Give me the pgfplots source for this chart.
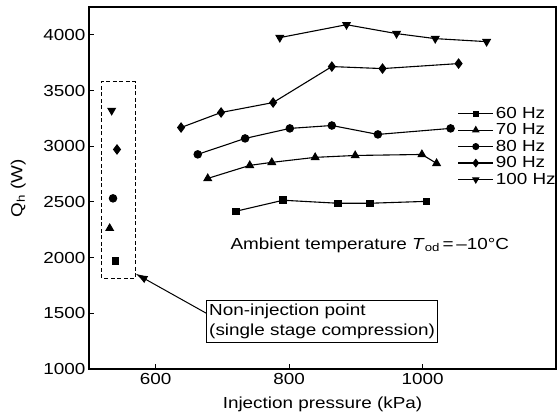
\documentclass[border=0pt]{standalone}
\usepackage{pgfplots}
\pgfplotsset{compat=1.18}
\usepackage{fontspec}
\setmainfont{Liberation Sans}[FakeStretch=1.18]
\usetikzlibrary{arrows.meta}
\begin{document}
\begin{tikzpicture}
\begin{axis}[
  name=ax,
  scale only axis,
  width=467pt, height=362pt,
  xmin=500, xmax=1200, ymin=1000, ymax=4250,
  xtick={600,800,1000}, ytick={1000,1500,2000,2500,3000,3500,4000},
  tick align=inside, xtick pos=bottom, ytick pos=left,
  major tick length=5pt,
  axis line style={line width=1.1pt},
  tick style={line width=1pt, black},
  /pgf/number format/assume math mode=true,
  /pgf/number format/1000 sep={},
  tick label style={font=\fontsize{16}{18}\selectfont},
  xticklabel style={yshift=-1pt},
  label style={font=\fontsize{16}{18}\selectfont},
  xlabel={Injection pressure (kPa)},
  ylabel={Q\textsubscript{h} (W)},
  xlabel style={yshift=-5pt},
  ylabel style={yshift=11pt},
  every axis plot/.append style={black, line width=1.1pt, mark options={solid, fill=black}},
  legend style={draw=none, fill=none, at={(1.004,0.729)}, anchor=north east,
    font=\fontsize{16}{17}\selectfont, row sep=-0.2pt, inner sep=0pt},
  legend cell align=left,
  legend image code/.code={\draw[#1] (0pt,0pt) -- (35pt,0pt); \draw[#1, only marks, every mark/.append style={scale=0.8}] plot coordinates {(17.5pt,0pt)};},
]
\addplot[mark=square*, mark size=3.2pt] coordinates {(720,2416) (791,2515) (873,2488) (921,2488) (1006,2505)};
\addlegendentry{60 Hz}
\addplot[mark=triangle*, mark size=4.2pt] coordinates {(678,2711) (741,2828) (774,2855) (839,2900) (899,2917) (999,2926) (1021,2846)};
\addlegendentry{70 Hz}
\addplot[mark=*, mark size=3.7pt] coordinates {(663,2927) (734,3070) (801,3160) (864,3186) (933,3106) (1042,3160)};
\addlegendentry{80 Hz}
\addplot[mark=diamond*, mark size=4.5pt] coordinates {(638,3168) (698,3303) (776,3392) (864,3715) (940,3697) (1054,3742)};
\addlegendentry{90 Hz}
\addplot[mark=triangle*, mark size=4.2pt, mark options={rotate=180}] coordinates {(786,3975) (886,4091) (961,4011) (1019,3966) (1096,3939)};
\addlegendentry{100 Hz}
% non-injection points
\addplot[only marks, mark=triangle*, mark size=4.2pt, mark options={rotate=180}, forget plot] coordinates {(534,3321)};
\addplot[only marks, mark=diamond*, mark size=4.5pt, forget plot] coordinates {(542,2971)};
\addplot[only marks, mark=*, mark size=3.7pt, forget plot] coordinates {(536,2532)};
\addplot[only marks, mark=triangle*, mark size=4.2pt, forget plot] coordinates {(531,2263)};
\addplot[only marks, mark=square*, mark size=3.2pt, forget plot] coordinates {(540,1968)};
\draw[line width=1pt, dash pattern=on 4pt off 2.5pt] (axis cs:519,1815) rectangle (axis cs:570,3581);
\node[draw, line width=1pt, align=left, anchor=north west, inner xsep=3pt, inner ysep=3.5pt, font=\fontsize{16}{20}\selectfont] (nb) at (axis cs:675,1618) {Non-injection point\\(single stage compression)};
\draw[line width=1pt, -{Latex[length=12pt,width=8pt]}] (axis cs:676,1500) -- (axis cs:570,1855);
\node[font=\fontsize{16}{18}\selectfont] at (axis cs:921,2111) {Ambient temperature \textit{T}\textsubscript{od}\,=\,\textendash10\textdegree C};
\end{axis}
\pgfresetboundingbox
\path (ax.south west) ++(-89pt,-50pt) rectangle ++(557pt,419pt);
\end{tikzpicture}
\end{document}
